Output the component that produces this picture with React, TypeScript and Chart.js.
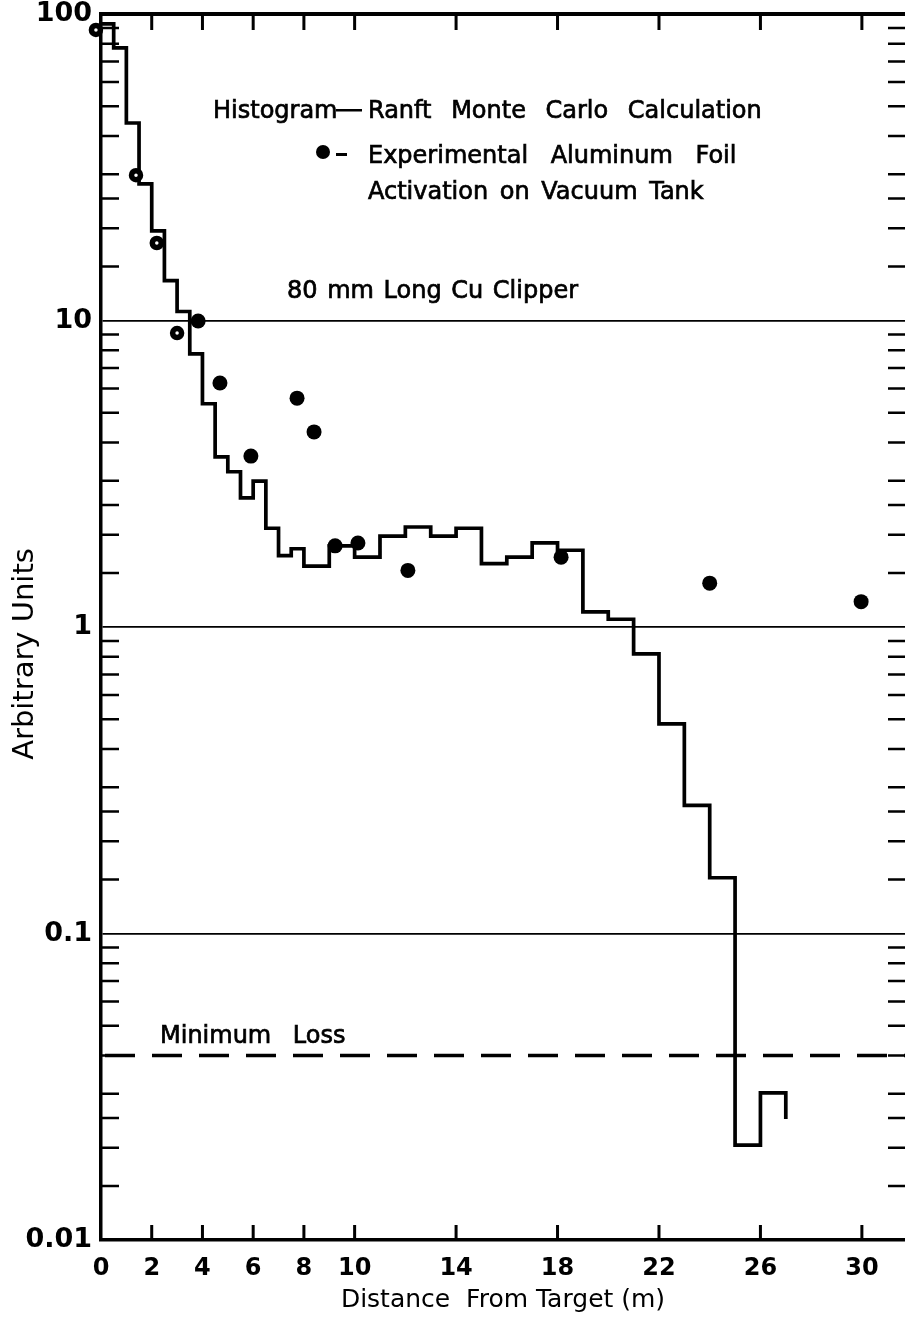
import React, { useEffect, useRef } from 'react';
import { Chart, registerables } from 'chart.js';

Chart.register(...registerables);

// ---- Data ----
// Histogram (Ranft Monte Carlo): bin left edges (m) and values; last entry closes the final bin
const histX = [0, 0.5, 1, 1.5, 2, 2.5, 3, 3.5, 4, 4.5, 5, 5.5, 6, 6.5, 7, 7.5, 8, 9, 10, 11, 12, 13, 14, 15, 16, 17, 18, 19, 20, 21, 22, 23, 24, 25, 26, 27];
const histY = [92.8, 77.5, 44.1, 27.9, 19.6, 13.5, 10.7, 7.78, 5.35, 3.59, 3.21, 2.64, 2.99, 2.10, 1.71, 1.80, 1.58, 1.84, 1.69, 1.98, 2.12, 1.98, 2.10, 1.61, 1.69, 1.88, 1.78, 1.12, 1.06, 0.817, 0.483, 0.262, 0.152, 0.0204, 0.0302, 0.0248];

// Experimental aluminum foil activation points (solid dots)
const expX = [3.83, 4.69, 5.91, 7.73, 8.4, 9.23, 10.13, 12.1, 18.14, 24.0, 29.97];
const expY = [9.96, 6.25, 3.61, 5.58, 4.33, 1.84, 1.88, 1.53, 1.69, 1.39, 1.21];

// Experimental points drawn as small rings near the target
const ringX = [-0.2, 1.38, 2.2, 3.0];
const ringY = [88.7, 29.8, 17.9, 9.1];

// Minimum loss level
const minimumLoss = 0.04;

// Axes
const xMin = 0;
const xMax = 31.7;
const xTickValues = [0, 2, 4, 6, 8, 10, 14, 18, 22, 26, 30];
const xTickLabels = ['0', '2', '4', '6', '8', '10', '14', '18', '22', '26', '30'];
const yMin = 0.01;
const yMax = 100;
const yTickValues = [0.01, 0.1, 1, 10, 100];
const yTickLabels = ['0.01', '0.1', '1', '10', '100'];
const yDecades = [0.01, 0.1, 1, 10];
const yMinorMultipliers = [1.5, 2, 2.5, 3, 4, 5, 6, 7, 8, 9];

const FONT = '"DejaVu Sans", "Liberation Sans", sans-serif';

function label(ctx: any, text: string, x: number, y: number, wordSpacing: number) {
  ctx.wordSpacing = wordSpacing + 'px';
  ctx.fillText(text, x, y);
  ctx.strokeText(text, x, y);
  ctx.wordSpacing = '0px';
}

const frameTicksPlugin = {
  id: 'frameTicks',
  afterDraw(chart: any) {
    const { ctx, chartArea: a, scales } = chart;
    const xs = scales.x;
    const ys = scales.y;
    ctx.save();
    ctx.strokeStyle = '#000';
    ctx.lineCap = 'butt';
    // top frame line
    ctx.lineWidth = 4;
    ctx.beginPath();
    ctx.moveTo(a.left - 2, a.top);
    ctx.lineTo(a.right, a.top);
    ctx.stroke();
    // inward minor ticks on the left and right edges
    ctx.lineWidth = 2.5;
    ctx.beginPath();
    for (const d of yDecades) {
      for (const m of yMinorMultipliers) {
        const py = ys.getPixelForValue(d * m);
        ctx.moveTo(a.left, py);
        ctx.lineTo(a.left + 18, py);
        ctx.moveTo(a.right - 17, py);
        ctx.lineTo(a.right, py);
      }
    }
    ctx.stroke();
    // inward ticks on top and bottom edges
    ctx.lineWidth = 3;
    ctx.beginPath();
    for (const v of xTickValues) {
      if (v <= xs.min) continue;
      const px = xs.getPixelForValue(v);
      ctx.moveTo(px, a.top);
      ctx.lineTo(px, a.top + 16);
      ctx.moveTo(px, a.bottom);
      ctx.lineTo(px, a.bottom - 15);
    }
    ctx.stroke();

    // annotations
    ctx.fillStyle = '#000';
    ctx.strokeStyle = '#000';
    ctx.lineWidth = 0.7;
    ctx.textAlign = 'left';
    ctx.textBaseline = 'alphabetic';
    ctx.font = '24px ' + FONT;
    label(ctx, 'Histogram', 213, 118, 0);
    ctx.fillRect(336, 109, 26, 2.5);
    label(ctx, 'Ranft Monte Carlo Calculation', 368, 118, 12);
    ctx.beginPath();
    ctx.arc(323, 152, 7, 0, Math.PI * 2);
    ctx.fill();
    ctx.fillRect(336, 153, 11, 3);
    label(ctx, 'Experimental Aluminum Foil', 368, 163, 15);
    label(ctx, 'Activation on Vacuum Tank', 368, 199, 4);
    label(ctx, '80 mm Long Cu Clipper', 287, 298, 2);
    label(ctx, 'Minimum Loss', 160, 1043, 14);

    // y-axis title
    ctx.save();
    ctx.translate(33, 654);
    ctx.rotate(-Math.PI / 2);
    ctx.textAlign = 'center';
    ctx.font = '29px ' + FONT;
    ctx.fillText('Arbitrary Units', 0, 0);
    ctx.restore();

    ctx.restore();
  },
};

export default function App() {
  const ref = useRef<HTMLCanvasElement>(null);

  useEffect(() => {
    document.body.style.margin = '0';
    const canvas = ref.current;
    if (!canvas) return;

    const histData = histX.map((x, i) => ({ x, y: histY[i] }));
    const expData = expX.map((x, i) => ({ x, y: expY[i] }));
    const ringData = ringX.map((x, i) => ({ x, y: ringY[i] }));
    const minData = [
      { x: xMin, y: minimumLoss },
      { x: xMax, y: minimumLoss },
    ];

    const chart = new Chart(canvas, {
      type: 'line',
      data: {
        datasets: [
          {
            label: 'Experimental (ring)',
            type: 'scatter',
            data: ringData,
            pointRadius: 4.5,
            pointBorderWidth: 5.5,
            pointBackgroundColor: '#fff',
            pointBorderColor: '#000',
            showLine: false,
            clip: false,
          } as any,
          {
            label: 'Experimental Aluminum Foil Activation',
            type: 'scatter',
            data: expData,
            pointRadius: 7.5,
            pointBorderWidth: 0,
            pointBackgroundColor: '#000',
            pointBorderColor: '#000',
            showLine: false,
          } as any,
          {
            label: 'Histogram - Ranft Monte Carlo',
            data: histData,
            stepped: true,
            borderColor: '#000',
            borderWidth: 3.7,
            pointRadius: 0,
            fill: false,
            borderJoinStyle: 'miter',
          } as any,
          {
            label: 'Minimum Loss',
            data: minData,
            borderColor: '#000',
            borderWidth: 3.5,
            borderDash: [30, 17],
            borderDashOffset: 43,
            pointRadius: 0,
            fill: false,
          } as any,
        ],
      },
      options: {
        responsive: false,
        devicePixelRatio: 1,
        animation: false,
        events: [],
        layout: { autoPadding: false, padding: { top: 14, left: 0, right: 0, bottom: 0 } },
        plugins: {
          legend: { display: false },
          tooltip: { enabled: false },
          title: { display: false },
        },
        scales: {
          x: {
            type: 'linear',
            position: 'bottom',
            min: xMin,
            max: xMax,
            afterBuildTicks: (s: any) => {
              s.ticks = xTickValues.map((v) => ({ value: v }));
            },
            afterFit: (s: any) => {
              s.height = 85;
              s.paddingLeft = 0;
              s.paddingRight = 0;
            },
            grid: { display: false, drawTicks: false },
            border: { display: true, color: '#000', width: 3.5 },
            ticks: {
              color: '#000',
              padding: 14,
              maxRotation: 0,
              autoSkip: false,
              font: { family: FONT, size: 24, weight: 'bold' },
              callback: (v: any) => {
                const i = xTickValues.indexOf(Number(v));
                return i >= 0 ? xTickLabels[i] : '';
              },
            },
            title: {
              display: true,
              text: 'Distance  From Target (m)',
              color: '#000',
              font: { family: FONT, size: 25 },
              padding: { top: 0, bottom: 10 },
            },
          },
          y: {
            type: 'logarithmic',
            position: 'left',
            min: yMin,
            max: yMax,
            afterBuildTicks: (s: any) => {
              s.ticks = yTickValues.map((v) => ({ value: v }));
            },
            afterFit: (s: any) => {
              s.width = 101;
              s.paddingTop = 0;
              s.paddingBottom = 0;
            },
            grid: {
              display: true,
              drawTicks: false,
              color: '#000',
              lineWidth: (c: any) =>
                c.tick && (c.tick.value === yMin || c.tick.value === yMax) ? 0 : 1.8,
            },
            border: { display: true, color: '#000', width: 3.5 },
            ticks: {
              color: '#000',
              padding: 9,
              autoSkip: false,
              font: { family: FONT, size: 27, weight: 'bold' },
              callback: (v: any) => {
                const i = yTickValues.indexOf(Number(v));
                return i >= 0 ? yTickLabels[i] : '';
              },
            },
            title: { display: false },
          },
        },
      } as any,
      plugins: [frameTicksPlugin],
    });

    return () => chart.destroy();
  }, []);

  return (
    <div style={{ position: 'absolute', left: 0, top: 0, width: 905, height: 1325, background: '#fff' }}>
      <canvas ref={ref} width={905} height={1325} style={{ display: 'block', width: 905, height: 1325 }} />
    </div>
  );
}
